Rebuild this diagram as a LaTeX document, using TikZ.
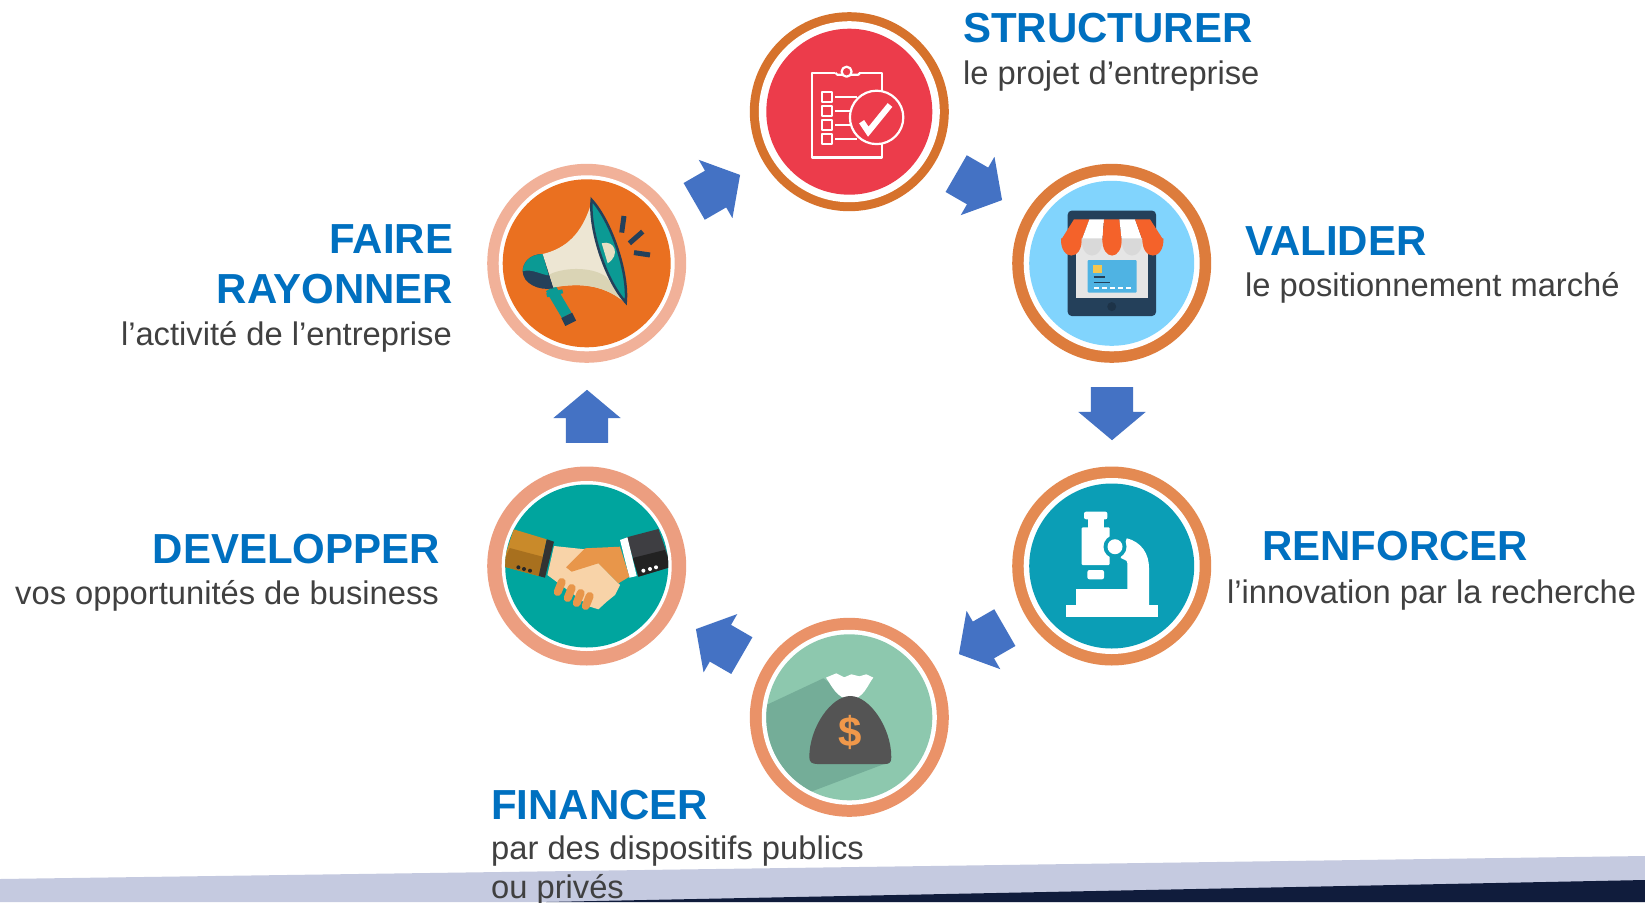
\documentclass[tikz,border=0pt]{standalone}
\usepackage{fontspec}
\setmainfont{Liberation Sans}
\usetikzlibrary{shapes.arrows}
\definecolor{headblue}{HTML}{0070C0}
\definecolor{subgray}{HTML}{404040}
\definecolor{arrowblue}{HTML}{4472C4}
\definecolor{rimA}{HTML}{D6722C}
\definecolor{rimB}{HTML}{DD7C3C}
\definecolor{rimC}{HTML}{E48A52}
\definecolor{rimD}{HTML}{EA9268}
\definecolor{rimE}{HTML}{EC9E80}
\definecolor{rimF}{HTML}{F1B199}
\definecolor{faceA}{HTML}{EC3C4B}
\definecolor{faceB}{HTML}{81D4FD}
\definecolor{faceC}{HTML}{0B9EB6}
\definecolor{faceD}{HTML}{8DC8AE}
\definecolor{faceE}{HTML}{00A59E}
\definecolor{faceF}{HTML}{EA7020}
\definecolor{navy}{HTML}{24405A}
\definecolor{cream}{HTML}{EDE6D3}
\definecolor{creamdark}{HTML}{DAD4B5}
\definecolor{creammid}{HTML}{E5DFC3}
\definecolor{tealmeg}{HTML}{0B9A94}
\definecolor{awning}{HTML}{F4622A}
\definecolor{bandlight}{HTML}{C5CAE0}
\definecolor{banddark}{HTML}{101C3C}
\definecolor{cardblue}{HTML}{4FB3E3}
\definecolor{chipyellow}{HTML}{F4C64F}
\definecolor{bagshade}{HTML}{74AD98}
\definecolor{dollarcol}{HTML}{F0984A}
\definecolor{sleevetop}{HTML}{C98A2A}
\definecolor{sleevelow}{HTML}{A8701E}
\definecolor{suittop}{HTML}{3E3E42}
\definecolor{suitlow}{HTML}{222222}
\definecolor{handlight}{HTML}{F8D3A8}
\definecolor{handdark}{HTML}{E8964A}
\tikzset{
   disc/.style={circle,inner sep=0pt,draw=none},
   headtxt/.style={inner sep=0pt,text=headblue,font=\fontsize{42}{42}\selectfont\bfseries},
   subtxt/.style={inner sep=0pt,text=subgray,font=\fontsize{32.7}{33}\selectfont},
   blockarrow/.style={single arrow,fill=arrowblue,draw=none,anchor=tail,inner xsep=0pt,
      inner ysep=21pt,minimum height=53pt,single arrow head extend=12.5pt,
      single arrow head indent=0pt,single arrow tip angle=100},
   whiteline/.style={draw=white,line width=2.2pt,line join=round}
}
\begin{document}
\begin{tikzpicture}[x=1pt,y=-1pt]
   \useasboundingbox (0,0) rectangle (1645,902);
   \fill[white] (0,0) rectangle (1645,902);
   % bottom band
   \fill[bandlight] (0,879) -- (1645,856) -- (1645,902) -- (0,902) -- cycle;
   \fill[banddark] (546,902) -- (1645,880) -- (1645,902) -- cycle;

   % the six discs
   \foreach \xi/\x/\y/\rimcol/\gapr/\facecol/\facer in {
      A/849.3/111.7/rimA/90.5/faceA/83,
      B/1111.7/263.3/rimB/88/faceB/82.5,
      C/1111.7/566/rimC/88/faceC/82.5,
      D/849.3/717.3/rimD/87.5/faceD/83,
      E/586.7/566/rimE/85/faceE/81.5,
      F/586.7/263.3/rimF/88/faceF/84}{
   \node[disc,fill=\rimcol,minimum size=199pt] (rim\xi) at (\x,\y) {};
   \node[disc,fill=white,minimum size=2*\gapr] (gap\xi) at (\x,\y) {};
   \node[disc,fill=\facecol,minimum size=2*\facer] (face\xi) at (\x,\y) {};
   }

   % arrows
   \node[blockarrow,rotate=-30] (arrAB) at (956,173.5) {};
   \node[blockarrow,rotate=-90] (arrBC) at (1112,387) {};
   \node[blockarrow,rotate=210] (arrCD) at (1005,627.5) {};
   \node[blockarrow,rotate=150] (arrDE) at (742,655.7) {};
   \node[blockarrow,rotate=90] (arrEF) at (587,443) {};
   \node[blockarrow,rotate=30] (arrFA) at (694,201.5) {};

   % clipboard
   \begin{scope}[shift={(faceA.center)}]
   \draw[whiteline] (-37.7,-39) rectangle (33,45.7);
   \fill[faceA] (-14,-42) rectangle (10,-36);
   \draw[whiteline] (-14,-39) -- (-12,-37) -- (9,-37) -- (11,-39);
   \draw[whiteline,fill=faceA] (-2.7,-40) circle (5pt);
   \foreach \y in {-20,-6,8,22}{
   \draw[whiteline] (-27.7,\y) rectangle (-17.7,\y+10);
   \draw[whiteline] (-14.3,\y+5) -- (8,\y+5);
   }
   \draw[whiteline,fill=faceA] (27.3,5.7) circle (26.7pt);
   \draw[draw=white,line width=6pt,line join=miter] (12.3,10) -- (19,20) -- (40.7,-6.7);
   \end{scope}

   % shop on a tablet
   \begin{scope}[shift={(faceB.center)}]
   \fill[navy,rounded corners=4pt] (-44,-52.7) rectangle (44.3,52.7);
   \fill[black!10] (-36,-23) rectangle (36,35);
   \fill[cardblue,rounded corners=1pt] (-24,-3.3) rectangle (25,29.3);
   \fill[chipyellow] (-19,1.7) rectangle (-10,9.3);
   \draw[navy,line width=1.3pt] (-18,13.7) -- (-7,13.7) (-18,19) -- (-2,19);
   \foreach \x in {-18,-10,-2,6,14}{
   \fill[white] (\x,23.2) rectangle (\x+5,25.6);
   }
   \fill[navy!80!black] (0,43.3) circle (4.5pt);
   \foreach \ta/\tb/\ba/\bb/\col in {
      -37.7/-22.3/-50.7/-30/awning,
      -22.3/-7.7/-30/-9.3/white,
      -7.7/7.7/-9.3/10/awning,
      7.7/23.3/10/30.7/white,
      23.3/38.3/30.7/51.7/awning}{
   \fill[\col] (\ta,-44) -- (\tb,-44) -- (\bb,-23.3) -- (\ba,-23.3) -- cycle;
   }
   \foreach \ba/\bb/\col in {
      -50.7/-30/awning,
      -30/-9.3/black!15,
      -9.3/10/awning,
      10/30.7/black!15,
      30.7/51.7/awning}{
   \fill[\col] (\ba,-25) .. controls (\ba-1,-2) and (\bb+1,-2) .. (\bb,-25) -- cycle;
   }
   \end{scope}

   % microscope
   \begin{scope}[shift={(faceC.center)}]
   \fill[white,rounded corners=2pt] (-27.7,-54.3) rectangle (-4.3,-46.7);
   \fill[white] (-24,-47) rectangle (-7.7,-38);
   \fill[white,rounded corners=1pt] (-30,-38.7) rectangle (-2,-1);
   \fill[white,rounded corners=2pt] (-24.3,4) rectangle (-7.7,13.3);
   \fill[white] (15,-27.7) .. controls (30,-24) and (37.3,-12) .. (37.3,2) -- (37.3,39)
      -- (15.7,39) -- (15.7,-2.7) .. controls (15.7,-5) .. (9,-8) -- cycle;
   \fill[white] (-35.7,23.3) rectangle (37.3,39);
   \fill[white] (-46,39) rectangle (46.7,50.7);
   \fill[faceC] (3.3,-19.3) circle (11.5pt);
   \fill[white] (3.3,-19.3) circle (7.5pt);
   \end{scope}

   % money bag
   \begin{scope}[shift={(faceD.center)}]
   \begin{scope}
   \clip (0,0) circle (83pt);
   \fill[bagshade] (-26,-39) -- (-90,-9) -- (-90,94) -- (42,44) -- (0,-20) -- cycle;
   \end{scope}
   \fill[white] (-23.3,-39.7) -- (-13,-44) -- (-5,-40) -- (2,-43) -- (10,-41) -- (17,-43) -- (24,-39.7)
      .. controls (18,-32) and (14,-18) .. (1,-18) .. controls (-12,-18) and (-18,-32) .. (-23.3,-39.7) -- cycle;
   \fill[black!67] (1,-21.3) .. controls (-18,-21.3) and (-40,10) .. (-40,40)
      .. controls (-40,45) and (-37,46.7) .. (-32,46.7) -- (36,46.7)
      .. controls (40,46.7) and (42,45) .. (42,40)
      .. controls (42,10) and (20,-21.3) .. (1,-21.3) -- cycle;
   \node[inner sep=0pt,text=dollarcol,font=\fontsize{42}{42}\selectfont\bfseries] (dollar) at (0.7,15.3) {\$};
   \end{scope}

   % handshake
   \begin{scope}[shift={(faceE.center)}]
   \begin{scope}
   \clip (0,0) circle (81.5pt);
   \fill[sleevetop] (-73,-36.7) -- (-40,-26.7) -- (-48,10) -- (-85,0) -- cycle;
   \fill[sleevelow] (-77,-18) -- (-43,-9) -- (-48,10) -- (-85,0) -- cycle;
   \fill[suittop] (40,-28.7) -- (71.7,-37) -- (85,0.7) -- (51.7,10.7) -- cycle;
   \fill[suitlow] (46,-8) -- (78,-16) -- (85,0.7) -- (51.7,10.7) -- cycle;
   \end{scope}
   \fill[black!80] (-40,-26.7) -- (-32.7,-24.3) -- (-41.7,11.7) -- (-48,10) -- cycle;
   \fill[white] (33.3,-26) -- (40.7,-28.7) -- (50,10) -- (42.7,11.7) -- cycle;
   \foreach \px/\py in {-68.3/1.3,-62.7/3,-56.7/4.7}{
   \fill[black!85] (\px,\py) circle (2pt);
   }
   \foreach \px/\py in {56.7/4.7,63.3/3,69.3/1.3}{
   \fill[white] (\px,\py) circle (2pt);
   }
   \fill[handlight] (-32.7,-20) -- (-1.7,-16.7) -- (33.3,19) -- (28.3,29)
      -- (20,35.7) -- (11.7,43.3) -- (3.3,40.7) -- (-39.3,9) -- cycle;
   \foreach \px/\py in {-27/21,-17/27,-8/32,1/35}{
   \draw[handdark,line width=8pt,line cap=round] (\px+2,\py-5) -- (\px-2,\py+5);
   }
   \fill[handdark] (-1.7,-17.7) -- (33.3,-19.3) -- (42.7,10.7) -- (31.7,17.3)
      -- (11.7,-2.7) -- (-15,5.7) -- (-20.7,1.3) -- cycle;
   \end{scope}

   % megaphone
   \begin{scope}[shift={(faceF.center)}]
   \draw[tealmeg,line width=11pt] (-36,25) -- (-20,52);
   \draw[tealmeg,line width=4pt] (-40,32) -- (-24,28);
   \draw[navy,line width=12pt] (-20,52) -- (-16,60);
   \fill[navy] (-44,-9.3) .. controls (-58,-9) and (-64,0) .. (-64,8)
      .. controls (-64,20) and (-48,28) .. (-33,25) -- cycle;
   \fill[tealmeg] (-44,-9.3) .. controls (-58,-9) and (-64,0) .. (-64,8)
      .. controls (-55,5) and (-44,12) .. (-38,12) -- cycle;
   \fill[cream] (-44,-9.3) .. controls (-20,-15) and (-5,-30) .. (4,-58.3) -- (37.3,38.3)
      .. controls (15,20) and (-10,20) .. (-33.3,24) -- cycle;
   \fill[creamdark] (-37,11) .. controls (-20,3) and (8,4) .. (20,14) -- (37.3,38.3)
      .. controls (15,20) and (-10,20) .. (-33.3,24) -- cycle;
   \draw[navy,line width=2.5pt,fill=tealmeg] (5,-63.3) .. controls (24.9,-41.4) and (41.9,9.8) .. (39,39)
      .. controls (19.1,17.4) and (2.1,-33.8) .. (5,-63.3) -- cycle;
   \fill[creammid] (15,-20) .. controls (28,-24) and (34,-8) .. (21,0) -- cycle;
   \draw[navy,line width=5pt] (37.3,-47.3) -- (35,-30.7);
   \draw[navy,line width=5pt] (56,-31.7) -- (42.7,-20);
   \draw[navy,line width=5pt] (63.3,-8.3) -- (47.3,-10.7);
   \end{scope}

   % labels
   \node[headtxt,anchor=base west] (hdA) at (963,42.5) {STRUCTURER};
   \node[subtxt,anchor=base west] (subA) at (963,84) {le projet d’entreprise};
   \node[headtxt,anchor=base west] (hdB) at (1245,255) {VALIDER};
   \node[subtxt,anchor=base west] (subB) at (1245,296) {le positionnement marché};
   \node[headtxt,anchor=base west] (hdC) at (1262,560) {RENFORCER};
   \node[subtxt,anchor=base west] (subC) at (1227,603) {l’innovation par la recherche};
   \node[headtxt,anchor=base west] (hdD) at (491,819) {FINANCER};
   \node[subtxt,anchor=base west] (subD) at (491,859) {par des dispositifs publics};
   \node[subtxt,anchor=base west] (subDb) at (491,898) {ou privés};
   \node[headtxt,anchor=base east] (hdE) at (440,563) {DEVELOPPER};
   \node[subtxt,anchor=base east] (subE) at (439,604) {vos opportunités de business};
   \node[headtxt,anchor=base east] (hdF) at (453.5,253) {FAIRE};
   \node[headtxt,anchor=base east] (hdFb) at (453.5,303) {RAYONNER};
   \node[subtxt,anchor=base east] (subF) at (452,345) {l’activité de l’entreprise};
\end{tikzpicture}
\end{document}
